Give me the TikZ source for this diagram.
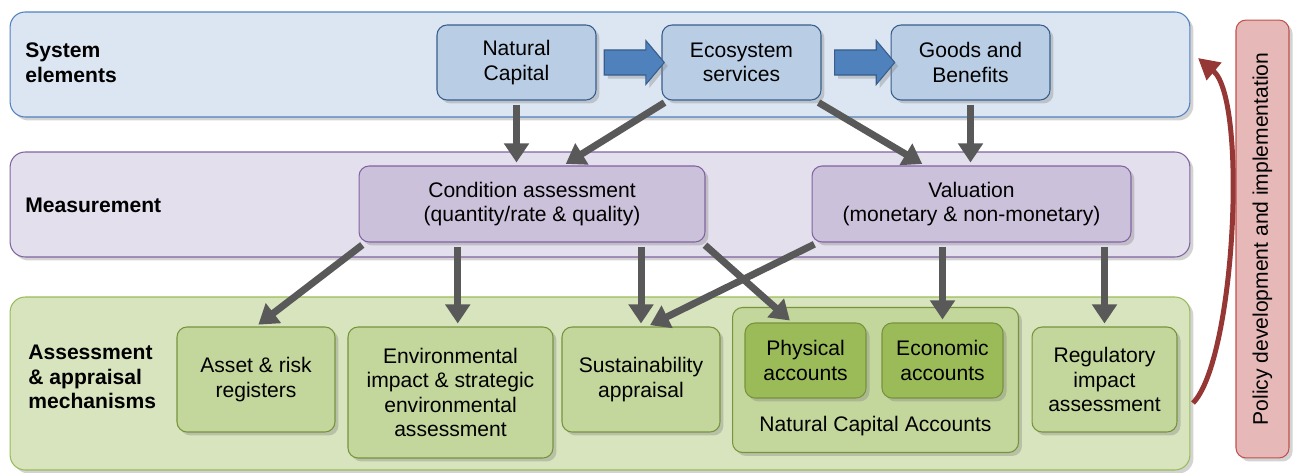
\documentclass[tikz,border=0pt]{standalone}
\usepackage{fontspec}
\setmainfont{Liberation Sans}
\usepackage{tikz}
\usetikzlibrary{
    shapes, arrows.meta, positioning, calc, shadows
}
\definecolor{colSysBand}{RGB}{220, 230, 242}
\definecolor{colSysLine}{RGB}{79, 129, 189}
\definecolor{colSysBox}{RGB}{185, 205, 229}
\definecolor{colSysBoxLine}{RGB}{56, 93, 138}
\definecolor{colFlow}{RGB}{79, 129, 189}
\definecolor{colMeasBand}{RGB}{228, 223, 236}
\definecolor{colMeasLine}{RGB}{128, 100, 162}
\definecolor{colMeasBox}{RGB}{204, 193, 218}
\definecolor{colAssBand}{RGB}{215, 228, 189}
\definecolor{colAssLine}{RGB}{155, 187, 89}
\definecolor{colAssBox}{RGB}{195, 214, 155}
\definecolor{colAssBoxLine}{RGB}{119, 147, 60}
\definecolor{colAcc}{RGB}{155, 187, 89}
\definecolor{colPolicy}{RGB}{230, 185, 184}
\definecolor{colPolicyLine}{RGB}{192, 80, 77}
\definecolor{colRed}{RGB}{149, 55, 53}
\definecolor{colGrey}{RGB}{89, 89, 89}

\begin{document}
\begin{tikzpicture}[x=0.02cm, y=-0.02cm,
    every node/.style={font=\fontsize{12}{14}\selectfont},
    boxshadow/.style={drop shadow={shadow xshift=0.07cm, shadow yshift=-0.07cm, opacity=0.35}},
    band/.style={draw, rounded corners=0.3cm, minimum width=23.6cm, line width=0.6pt, boxshadow},
    box/.style={draw, rounded corners=0.2cm, align=center, inner sep=0pt, line width=0.6pt, boxshadow},
    sysbox/.style={box, fill=colSysBox, draw=colSysBoxLine, minimum width=3.18cm, minimum height=1.5cm},
    measbox/.style={box, fill=colMeasBox, draw=colMeasLine, minimum height=1.52cm},
    assbox/.style={box, fill=colAssBox, draw=colAssBoxLine},
    accbox/.style={box, fill=colAcc, draw=colAssBoxLine, minimum width=2.42cm, minimum height=1.5cm},
    lbl/.style={anchor=west, align=left, inner sep=0pt, font=\fontsize{12}{14}\selectfont\bfseries},
    flow/.style={single arrow, fill=colFlow, draw=colSysBoxLine, line width=0.6pt,
        inner xsep=0pt, inner ysep=0.24cm, minimum height=1.2cm,
        single arrow head extend=0.19cm, single arrow tip angle=100, boxshadow},
    link/.style={-{Triangle[length=0.38cm, width=0.48cm]}, line width=0.14cm, colGrey,
        shorten <=0.08cm, shorten >=0.06cm},
    policyarrow/.style={-{Triangle[length=0.42cm, width=0.44cm]}, line width=0.1cm, colRed}
]
    \useasboundingbox (0, 0) rectangle (1301, 473);

    % Bands
    \node[band, fill=colSysBand, draw=colSysLine, minimum height=2.1cm] (sysband) at (600, 64.5) {};
    \node[band, fill=colMeasBand, draw=colMeasLine, minimum height=2.1cm] (measband) at (600, 204.5) {};
    \node[band, fill=colAssBand, draw=colAssLine, minimum height=3.46cm] (assband) at (600, 383.5) {};
    \node[lbl] (syslbl) at (25, 63) {System\\elements};
    \node[lbl] (measlbl) at (25, 205) {Measurement};
    \node[lbl] (asslbl) at (28, 377) {Assessment\\\& appraisal\\mechanisms};

    % Policy
    \node[box, fill=colPolicy, draw=colPolicyLine, minimum width=1.06cm, minimum height=8.76cm] (policy) at (1262.5, 239) {};
    \node[rotate=90] (policytxt) at (policy) {Policy development and implementation};

    % System elements
    \node[sysbox] (natcap) at (516.5, 62.5) {Natural\\Capital};
    \node[sysbox] (eco) at (741.5, 62.5) {Ecosystem\\services};
    \node[sysbox] (goods) at (970.5, 62.5) {Goods and\\Benefits};
    \node[flow] (flow1) at ($(natcap.east)!0.5!(eco.west)$) {};
    \node[flow] (flow2) at ($(eco.east)!0.55!(goods.west)$) {};

    % Measurement
    \node[measbox, minimum width=6.92cm] (cond) at (532, 204) {Condition assessment\\(quantity/rate \& quality)};
    \node[measbox, minimum width=6.38cm] (val) at (971.5, 204) {Valuation\\(monetary \& non-monetary)};

    % Assessment & appraisal
    \node[assbox, minimum width=3.16cm, minimum height=2.1cm] (asset) at (256, 379.5) {Asset \& risk\\registers};
    \node[assbox, minimum width=4.1cm, minimum height=2.62cm] (env) at (450.5, 392.5) {Environmental\\impact \& strategic\\environmental\\assessment};
    \node[assbox, minimum width=3.16cm, minimum height=2.1cm] (sust) at (641, 379.5) {Sustainability\\appraisal};
    \node[assbox, minimum width=5.72cm, minimum height=2.9cm] (nca) at (875.5, 380) {};
    \node[inner sep=0pt, above=0.33cm of nca.south] (ncatxt) {Natural Capital Accounts};
    \node[accbox] (phys) at (805.5, 360.5) {Physical\\accounts};
    \node[accbox] (econ) at (942.5, 360.5) {Economic\\accounts};
    \node[assbox, minimum width=2.9cm, minimum height=2.1cm] (reg) at (1104.5, 379.5) {Regulatory\\impact\\assessment};

    % Links
    \coordinate (c1) at ($(cond.south west)!0.286!(cond.south east)$);
    \draw[link] (natcap.south) -- (natcap.south |- cond.north);
    \draw[link] ($(eco.south west)!0.04!(eco.south east)$) -- ($(cond.north west)!0.59!(cond.north east)$);
    \draw[link] ($(eco.south west)!0.96!(eco.south east)$) -- ($(val.north west)!0.354!(val.north east)$);
    \draw[link] (goods.south) -- (goods.south |- val.north);
    \draw[link] ($(cond.south west)!0.02!(cond.south east)$) -- (asset.north);
    \draw[link] (c1) -- (c1 |- env.north);
    \draw[link] (sust.north |- cond.south) -- (sust.north);
    \draw[link] ($(cond.south west)!0.99!(cond.south east)$) -- ($(phys.north west)!0.39!(phys.north east)$);
    \draw[link] ($(val.south west)!0.02!(val.south east)$) -- ($(sust.north west)!0.54!(sust.north east)$);
    \draw[link] (econ.north |- val.south) -- (econ.north);
    \draw[link] (reg.north |- val.south) -- (reg.north);

    % Policy arrow
    \coordinate (pstart) at (1193, 403);
    \coordinate (pend) at (1198, 58);
    \draw[policyarrow] (pstart) .. controls (1235, 360) and (1248, 100) .. (pend);
\end{tikzpicture}
\end{document}
